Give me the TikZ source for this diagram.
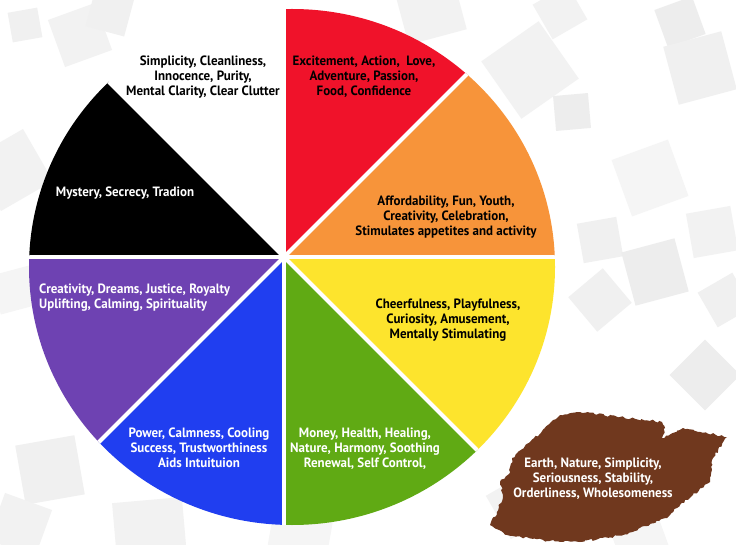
\documentclass[tikz,border=0pt]{standalone}
\usepackage{fontspec}
\newfontfamily\lblfont{PT Sans}[FakeStretch=0.96]
\usetikzlibrary{decorations.pathmorphing}
\definecolor{cred}{RGB}{240,18,42}
\definecolor{corange}{RGB}{247,148,58}
\definecolor{cyellow}{RGB}{253,228,45}
\definecolor{cgreen}{RGB}{96,170,20}
\definecolor{cblue}{RGB}{32,62,240}
\definecolor{cpurple}{RGB}{110,66,178}
\definecolor{cbrown}{RGB}{112,56,30}
\begin{document}
\begin{tikzpicture}[x=1pt,y=1pt,
  lbl/.style={font=\lblfont\bfseries\fontsize{13.5}{15}\selectfont, align=center, inner sep=0pt},
  sq/.style={fill=black!#1}]
\useasboundingbox (0,0) rectangle (736,544);
\fill[white] (0,0) rectangle (736,544);
% background squares (x, y-from-top, size, rotation, grey)
\foreach \x/\y/\s/\r/\g in {
  25/25/30/10/6, 80/35/50/20/5, 110/12/40/-15/6, 12/170/60/30/5, 15/290/40/15/4,
  50/470/60/10/6, 20/525/50/-20/5, 150/535/70/5/5, 430/8/60/15/5, 560/12/40/30/5,
  680/22/40/20/7, 700/68/60/15/6, 572/112/35/5/7, 650/178/60/20/4, 600/240/40/10/6,
  655/272/55/15/7, 712/232/45/10/5, 725/300/40/30/6, 705/375/50/45/7, 530/70/70/35/5,
  600/300/45/40/6, 520/505/50/30/5, 300/535/60/-10/4, 640/540/50/20/4}
  \fill[sq=\g, shift={(\x,544-\y)}, rotate=\r] (-\s/2,-\s/2) rectangle (\s/2,\s/2);
% wheel
\coordinate (P) at (284,287);
\begin{scope}
  \clip (292,277) ellipse [x radius=263pt, y radius=258pt];
  \foreach \a/\c in {0/corange,45/cred,90/white,135/black,180/cpurple,225/cblue,270/cgreen,315/cyellow}
    \fill[\c] (P) -- ++(\a:600pt) arc[start angle=\a, end angle=\a+45, radius=600pt] -- cycle;
  \foreach \a in {0,45,90,135}
    \draw[white, line width=4.2pt] (P) ++(\a:400pt) -- ++(\a+180:800pt);
\end{scope}
% brown blob
\fill[cbrown, decorate, decoration={random steps, segment length=2.5pt, amplitude=1.2pt}]
  (512,86) -- (530,102) -- (560,129) -- (580,132) -- (620,127) -- (662,122) -- (665,116)
  -- (662,106) -- (683,116) -- (727,107) -- (713,86) -- (710,62) -- (693,49) -- (680,39)
  -- (667,26) -- (623,9) -- (580,2) -- (547,3) -- (507,9) -- (490,19) -- (497,32)
  -- (503,49) -- (500,62) -- (510,72) -- cycle;
% labels
\node[lbl] (tw) at (203,467) {Simplicity, Cleanliness,\\Innocence, Purity,\\Mental Clarity, Clear Clutter};
\node[lbl] (tr) at (364,467) {Excitement, Action,\ \ Love,\\Adventure, Passion,\\Food, Confidence};
\node[lbl] (to) at (446,327) {Affordability, Fun, Youth,\\Creativity, Celebration,\\Stimulates appetites and activity};
\node[lbl, white] (tk) at (125,351) {Mystery, Secrecy, Tradion};
\node[lbl, white, align=left, anchor=west] (tp) at (39,246.5) {Creativity, Dreams, Justice, Royalty\\Uplifting, Calming, Spirituality};
\node[lbl, white] (tb) at (199,96) {Power, Calmness, Cooling\\Success, Trustworthiness\\Aids Intuituion};
\node[lbl, white] (tg) at (365,95) {Money, Health, Healing,\\Nature, Harmony, Soothing\\Renewal, Self Control,};
\node[lbl] (ty) at (448,224) {Cheerfulness, Playfulness,\\Curiosity, Amusement,\\Mentally Stimulating};
\node[lbl, white] (tn) at (593,65) {Earth, Nature, Simplicity,\\Seriousness, Stability,\\Orderliness, Wholesomeness};
\end{tikzpicture}
\end{document}
